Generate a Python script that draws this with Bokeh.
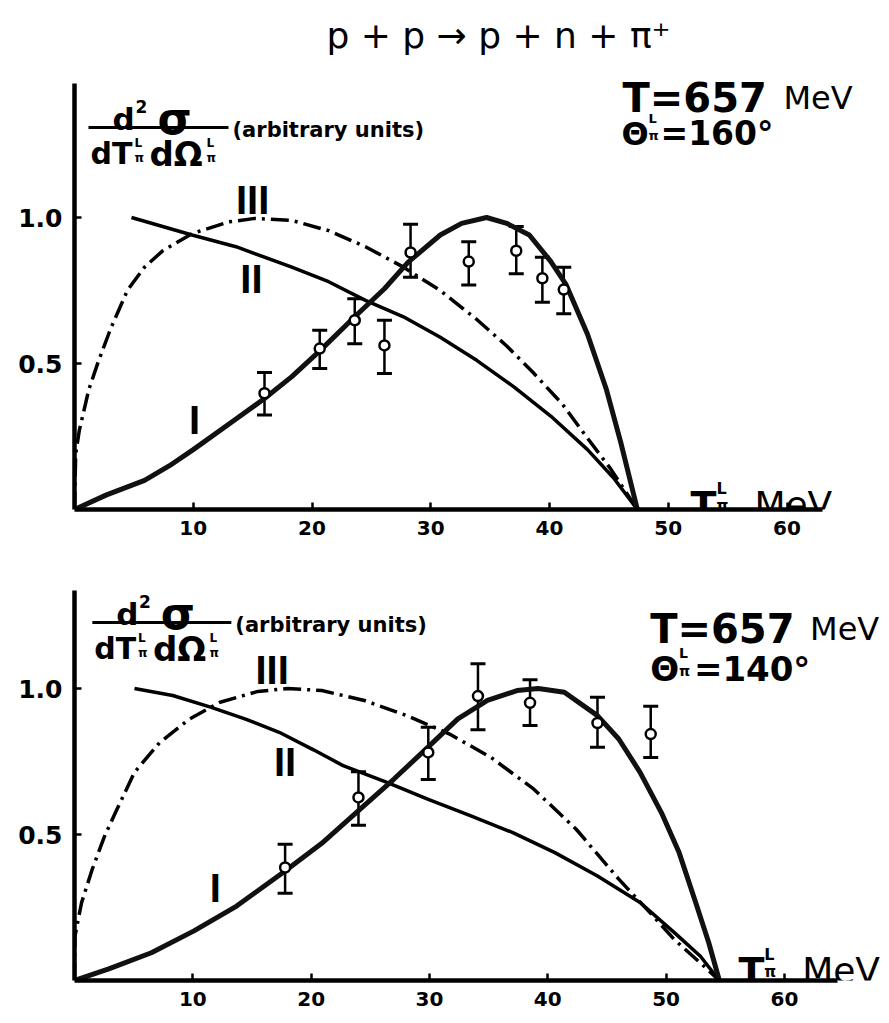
from bokeh.plotting import figure
from bokeh.models import Range1d, FixedTicker, Label, Whisker, TeeHead, ColumnDataSource
from bokeh.layouts import column
from bokeh.embed import file_html
from bokeh.resources import INLINE

# ---------------- data: top panel (theta = 160 deg) ----------------
x_ticks = [10, 20, 30, 40, 50, 60]
y_ticks = [0.5, 1.0]

top_I_x = [0, 2.7, 5.9, 8.0, 10.0, 13.6, 16.0, 18.3, 20.7, 23.6, 26.1, 28.1, 30.8, 32.6, 34.7, 36.4, 38.3, 40.1, 41.4, 43.2, 44.8, 46.0, 47.4]
top_I_y = [0, 0.05, 0.10, 0.15, 0.205, 0.31, 0.38, 0.455, 0.545, 0.66, 0.756, 0.847, 0.94, 0.98, 1.0, 0.98, 0.94, 0.85, 0.77, 0.60, 0.41, 0.23, 0]

top_II_x = [4.8, 9.9, 13.6, 18.3, 21.4, 24.5, 27.7, 30.8, 33.9, 37.0, 40.1, 43.2, 45.4, 47.4]
top_II_y = [1.0, 0.94, 0.90, 0.83, 0.78, 0.716, 0.66, 0.59, 0.51, 0.42, 0.32, 0.205, 0.108, 0]

top_III_x = [0, 0.1, 0.4, 1.2, 2.0, 3.05, 4.45, 5.9, 7.4, 9.9, 13.0, 15.2, 18.3, 21.4, 24.5, 27.7, 30.8, 33.9, 36.4, 38.6, 41.1, 43.2, 45.1, 47.4]
top_III_y = [0, 0.19, 0.27, 0.41, 0.506, 0.62, 0.75, 0.83, 0.885, 0.945, 0.985, 0.997, 0.99, 0.955, 0.90, 0.83, 0.75, 0.65, 0.56, 0.47, 0.36, 0.244, 0.142, 0]

top_pts_x = [16.0, 20.65, 23.6, 26.1, 28.3, 33.2, 37.2, 39.4, 41.2]
top_pts_y = [0.398, 0.551, 0.648, 0.562, 0.88, 0.849, 0.886, 0.792, 0.753]
top_pts_hi = [0.469, 0.614, 0.722, 0.648, 0.977, 0.917, 0.969, 0.864, 0.83]
top_pts_lo = [0.324, 0.483, 0.568, 0.466, 0.795, 0.769, 0.807, 0.710, 0.67]

# ---------------- data: bottom panel (theta = 140 deg) ----------------
bot_I_x = [0, 2.9, 6.5, 10.1, 13.7, 17.8, 20.9, 24.5, 27.0, 29.9, 32.4, 34.9, 37.4, 39.2, 41.4, 44.2, 46.0, 47.8, 49.6, 51.1, 52.5, 53.6, 54.5]
bot_I_y = [0, 0.04, 0.095, 0.17, 0.255, 0.375, 0.47, 0.60, 0.69, 0.80, 0.896, 0.959, 0.993, 1.0, 0.987, 0.907, 0.827, 0.713, 0.575, 0.438, 0.267, 0.13, 0]

bot_II_x = [5.07, 8.3, 11.5, 14.4, 17.3, 20.2, 22.7, 26.3, 29.9, 33.5, 37.0, 40.6, 44.2, 47.8, 50.7, 52.9, 54.5]
bot_II_y = [1.0, 0.976, 0.936, 0.896, 0.85, 0.79, 0.736, 0.68, 0.62, 0.564, 0.507, 0.438, 0.358, 0.267, 0.164, 0.083, 0]

bot_III_x = [0, 0.04, 0.6, 1.5, 2.55, 3.6, 5.07, 7.2, 9.7, 12.3, 15.5, 18.0, 20.9, 24.5, 28.1, 31.7, 35.2, 38.8, 42.4, 46.0, 48.9, 50.7, 52.9, 54.5]
bot_III_y = [0, 0.152, 0.267, 0.381, 0.495, 0.587, 0.713, 0.815, 0.895, 0.953, 0.99, 1.0, 0.993, 0.959, 0.907, 0.844, 0.764, 0.656, 0.518, 0.347, 0.221, 0.14, 0.06, 0]

bot_pts_x = [17.8, 24.0, 29.9, 34.1, 38.5, 44.2, 48.7]
bot_pts_y = [0.387, 0.627, 0.781, 0.974, 0.951, 0.882, 0.844]
bot_pts_hi = [0.467, 0.715, 0.867, 1.085, 1.03, 0.97, 0.939]
bot_pts_lo = [0.299, 0.532, 0.688, 0.859, 0.873, 0.799, 0.764]

title_text = "p + p \u2192 p + n + \u03c0\u207a"
energy_text = "T=657"
angle_top = "=160\u00b0"
angle_bot = "=140\u00b0"

FONT = "DejaVu Sans"
W = 881


def make_panel(height, bl, bt, bb, xend, yend, xbound, ybound):
    p = figure(width=W, height=height, x_range=Range1d(0, xend), y_range=Range1d(0, yend),
               output_backend="svg", toolbar_location=None,
               min_border_left=bl, min_border_right=0, min_border_top=bt, min_border_bottom=bb)
    p.xgrid.visible = False
    p.ygrid.visible = False
    p.outline_line_color = None
    p.background_fill_color = "white"
    p.border_fill_color = "white"
    for ax, ticks, b in ((p.xaxis, x_ticks, xbound), (p.yaxis, y_ticks, ybound)):
        ax.ticker = FixedTicker(ticks=ticks)
        ax.bounds = (0, b)
        ax.axis_line_width = 4.5
        ax.axis_line_color = "black"
        ax.major_tick_in = 7
        ax.major_tick_out = 0
        ax.major_tick_line_width = 2.5
        ax.minor_tick_line_color = None
        ax.major_label_text_font = FONT
        ax.major_label_text_font_style = "bold"
        ax.major_label_text_color = "black"
    p.xaxis.major_label_text_font_size = "20px"
    p.xaxis.major_label_standoff = 11
    p.yaxis.major_label_text_font_size = "25px"
    p.yaxis.major_label_standoff = 12
    p.yaxis.major_label_overrides = {0.5: "0.5", 1.0: "1.0", 1: "1.0"}
    return p


def draw(p, Ix, Iy, IIx, IIy, IIIx, IIIy, px_, py_, phi, plo):
    p.line(IIIx, IIIy, line_width=3.5, line_color="black", line_dash="18 6 3 6")
    p.line(IIx, IIy, line_width=3.5, line_color="black")
    p.line(Ix, Iy, line_width=5, line_color="#111111")
    src = ColumnDataSource(dict(x=px_, y=py_, hi=phi, lo=plo))
    w = Whisker(source=src, base="x", upper="hi", lower="lo", dimension="height",
                line_width=2.5, line_color="black",
                upper_head=TeeHead(size=15, line_width=3, line_color="black"),
                lower_head=TeeHead(size=15, line_width=3, line_color="black"))
    p.add_layout(w)
    p.scatter("x", "y", source=src, marker="circle", size=10, fill_color="white",
              line_color="black", line_width=2.5)


def labeler(p, x0px, xscale, y0px, yscale):
    def lab(px, py, text, size, bold=True, align="left", baseline="alphabetic", font=FONT):
        x = (px - x0px) / xscale
        y = (y0px - py) / yscale
        p.add_layout(Label(x=x, y=y, text=text, text_font=font, text_font_size=f"{size}px",
                           text_font_style="bold" if bold else "normal", text_align=align,
                           text_baseline=baseline, text_color="black"))
    return lab


def roman(p, x, y, text):
    p.add_layout(Label(x=x, y=y, text=text, text_font="Liberation Sans", text_font_size="40px",
                       text_font_style="bold", text_align="center", text_baseline="middle",
                       text_color="black"))


def ylabel(lab, p, x0px, xscale, y0px, yscale, dx, dy):
    lab(112 + dx, 118 + dy, "d", 31)
    lab(135 + dx, 106 + dy, "2", 17)
    lab(157 + dx, 118 + dy, "\u03c3", 44)
    xb = [(88 + dx - x0px) / xscale, (228 + dx - x0px) / xscale]
    yb = [(y0px - (127 + dy)) / yscale] * 2
    p.line(xb, yb, line_width=3, line_color="black")
    lab(90 + dx, 153 + dy, "dT", 30)
    lab(134 + dx, 142 + dy, "L", 12)
    lab(134 + dx, 157 + dy, "\u03c0", 12)
    lab(149 + dx, 153 + dy, "d\u03a9", 34)
    lab(206 + dx, 142 + dy, "L", 12)
    lab(206 + dx, 157 + dy, "\u03c0", 12)
    lab(232 + dx, 129 + dy, "(arbitrary units)", 21)


# ---------------- top panel: page x0 = 74, y0 = 509 ----------------
X0T, SXT, Y0T, SY = 74, 11.875, 509, 292
top_h = 545
top = make_panel(top_h, X0T, 8, top_h - Y0T, (W - X0T) / SXT, (Y0T - 8) / SY, 63.0, 1.459)
draw(top, top_I_x, top_I_y, top_II_x, top_II_y, top_III_x, top_III_y,
     top_pts_x, top_pts_y, top_pts_hi, top_pts_lo)
labT = labeler(top, X0T, SXT, Y0T, SY)
labT(498, 35, title_text, 36, bold=False, align="center", baseline="middle")
labT(622, 97, energy_text, 40)
labT(783, 97, "MeV", 32, bold=False)
labT(621, 133, "\u0398", 32)
labT(648, 118, "L", 13)
labT(648, 135, "\u03c0", 13)
labT(660, 133, angle_top, 33)
labT(690, 504, "T", 38)
labT(716, 488, "L", 16)
labT(716, 505, "\u03c0", 15)
labT(731, 504, ", MeV", 36, bold=False)
ylabel(labT, top, X0T, SXT, Y0T, SY, 0, 0)
roman(top, 15.0, 1.06, "III")
roman(top, 14.9, 0.79, "II")
roman(top, 10.1, 0.305, "I")

# ---------------- bottom panel: page x0 = 68, y0 = 980 ----------------
X0B, SXB, Y0B = 68, 11.92, 980
bot_h = 475
bot_top = top_h
bot = make_panel(bot_h, X0B, 3, bot_top + bot_h - Y0B, (W - X0B) / SXB, (Y0B - bot_top - 3) / SY, 64.5, 1.336)
draw(bot, bot_I_x, bot_I_y, bot_II_x, bot_II_y, bot_III_x, bot_III_y,
     bot_pts_x, bot_pts_y, bot_pts_hi, bot_pts_lo)
labB = labeler(bot, X0B, SXB, Y0B, SY)
labB(648, 628, energy_text, 40)
labB(809, 628, "MeV", 32, bold=False)
labB(648, 668, "\u0398", 34)
labB(677, 652, "L", 14)
labB(677, 670, "\u03c0", 14)
labB(692, 668, angle_bot, 34)
labB(737, 970, "T", 38)
labB(763, 954, "L", 16)
labB(763, 971, "\u03c0", 15)
labB(778, 970, ", MeV", 36, bold=False)
ylabel(labB, bot, X0B, SXB, Y0B, SY, -2, 495)
roman(bot, 16.7, 1.065, "III")
roman(bot, 17.8, 0.75, "II")
roman(bot, 11.9, 0.318, "I")

layout = column(top, bot, spacing=0)
open("out.html", "w").write(file_html(layout, INLINE))
